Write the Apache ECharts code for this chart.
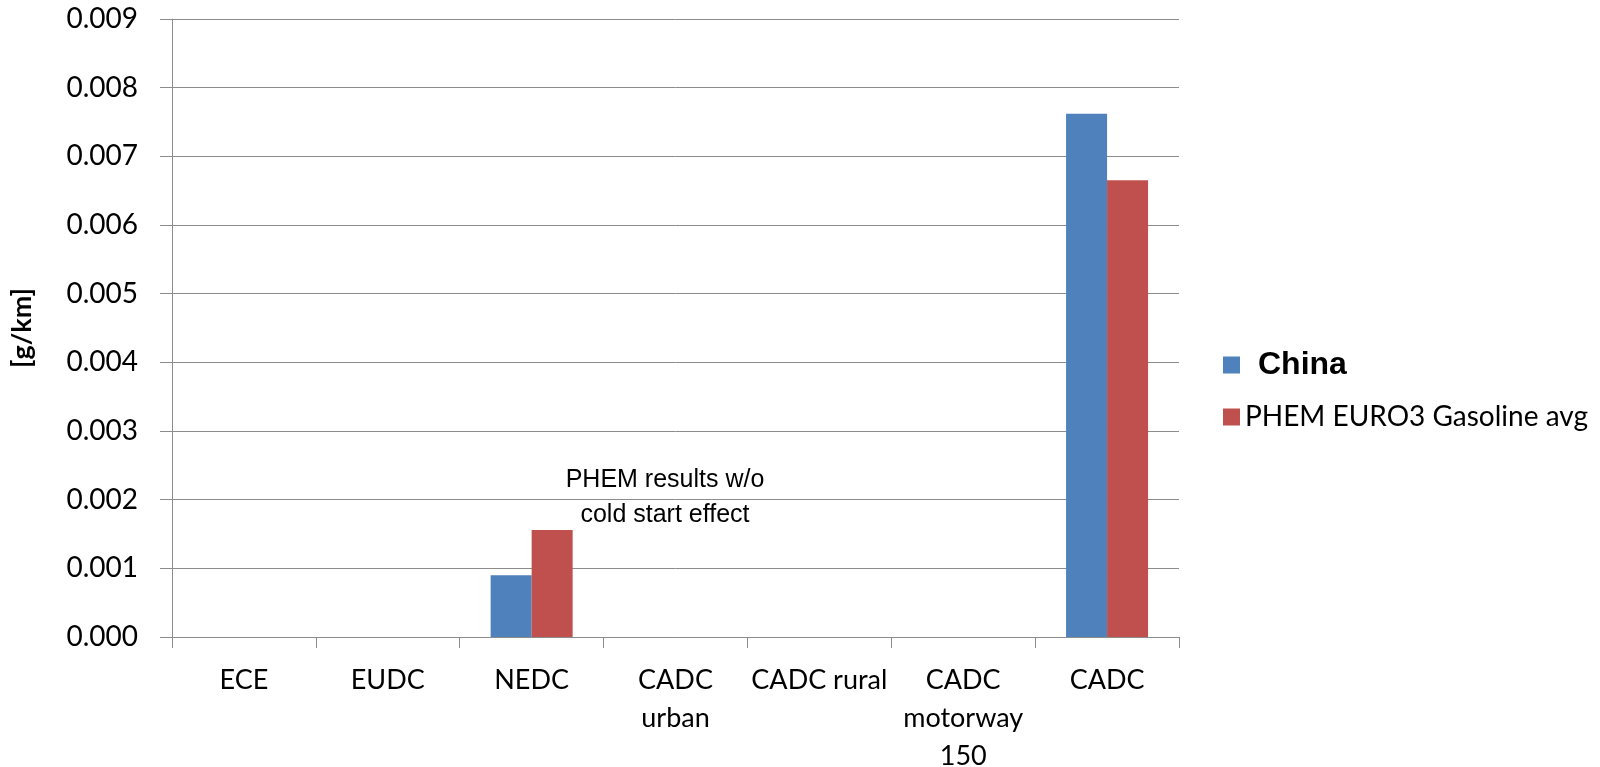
<!DOCTYPE html>
<html>
<head>
<meta charset="utf-8">
<script src="https://cdn.jsdelivr.net/npm/echarts@6/dist/echarts.min.js"></script>
<style>
html,body{margin:0;padding:0;background:#fff;}
#chart{width:1600px;height:767px;}
</style>
</head>
<body>
<div id="chart"></div>
<script>
var categories = ['ECE', 'EUDC', 'NEDC', 'CADC\nurban', 'CADC rural', 'CADC\nmotorway\n150', 'CADC'];
var chinaValues = [null, null, 0.0009, null, null, null, 0.00762];
var phemValues = [null, null, 0.00156, null, null, null, 0.00665];
var yTicks = { min: 0, max: 0.009, interval: 0.001 };
var seriesNames = ['China', 'PHEM EURO3 Gasoline avg'];
var annotationText = 'PHEM results w/o\ncold start effect';

var chart = echarts.init(document.getElementById('chart'));
var gridColor = '#8c8c8c';
var calibri = 'Lato, "Open Sans", sans-serif';

chart.setOption({
  animation: false,
  backgroundColor: '#ffffff',
  grid: { left: 172, right: 421, top: 19, bottom: 130, containLabel: false, outerBoundsMode: 'none' },
  legend: {
    orient: 'vertical',
    left: 1218,
    top: 343,
    itemWidth: 17,
    itemHeight: 17,
    itemGap: 20,
    icon: 'rect',
    data: [
      { name: seriesNames[0], textStyle: { fontFamily: '"Liberation Sans", Arial, sans-serif', fontWeight: 'bold', fontSize: 32, color: '#000', lineHeight: 34, padding: [0, 0, 0, 13] } },
      { name: seriesNames[1], textStyle: { fontFamily: calibri, fontSize: 28, color: '#000', lineHeight: 30 } }
    ]
  },
  xAxis: {
    type: 'category',
    data: categories,
    boundaryGap: true,
    axisLine: { show: true, lineStyle: { color: gridColor, width: 1 } },
    axisTick: { show: true, length: 11, inside: false, lineStyle: { color: gridColor } },
    axisLabel: {
      interval: 0,
      margin: 24,
      color: '#000',
      fontFamily: calibri,
      fontSize: 27,
      lineHeight: 38
    },
    splitLine: { show: false }
  },
  yAxis: {
    type: 'value',
    min: yTicks.min,
    max: yTicks.max,
    interval: yTicks.interval,
    name: '[g/km]',
    nameLocation: 'middle',
    nameRotate: 90,
    nameGap: 136,
    nameTextStyle: { fontFamily: calibri, fontWeight: 'bold', fontSize: 27, color: '#000' },
    axisLine: { show: true, lineStyle: { color: gridColor, width: 1 } },
    axisTick: { show: true, length: 12, inside: false, lineStyle: { color: gridColor } },
    axisLabel: {
      margin: 34,
      color: '#000',
      fontFamily: calibri,
      fontSize: 28,
      formatter: function (v) { return v.toFixed(3); }
    },
    splitLine: { show: true, lineStyle: { color: gridColor, width: 1 } }
  },
  series: [
    {
      name: seriesNames[0],
      type: 'bar',
      data: chinaValues,
      barGap: '0%',
      barCategoryGap: '43%',
      itemStyle: { color: '#4F81BD' }
    },
    {
      name: seriesNames[1],
      type: 'bar',
      data: phemValues,
      barGap: '0%',
      barCategoryGap: '43%',
      itemStyle: { color: '#C0504D' }
    }
  ],
  graphic: [
    {
      type: 'text',
      x: 665,
      y: 463,
      style: {
        text: annotationText,
        textAlign: 'center',
        textVerticalAlign: 'top',
        fontFamily: '"Liberation Sans", Arial, sans-serif',
        fontSize: 25,
        lineHeight: 35,
        fill: '#000'
      }
    }
  ]
});
</script>
</body>
</html>
